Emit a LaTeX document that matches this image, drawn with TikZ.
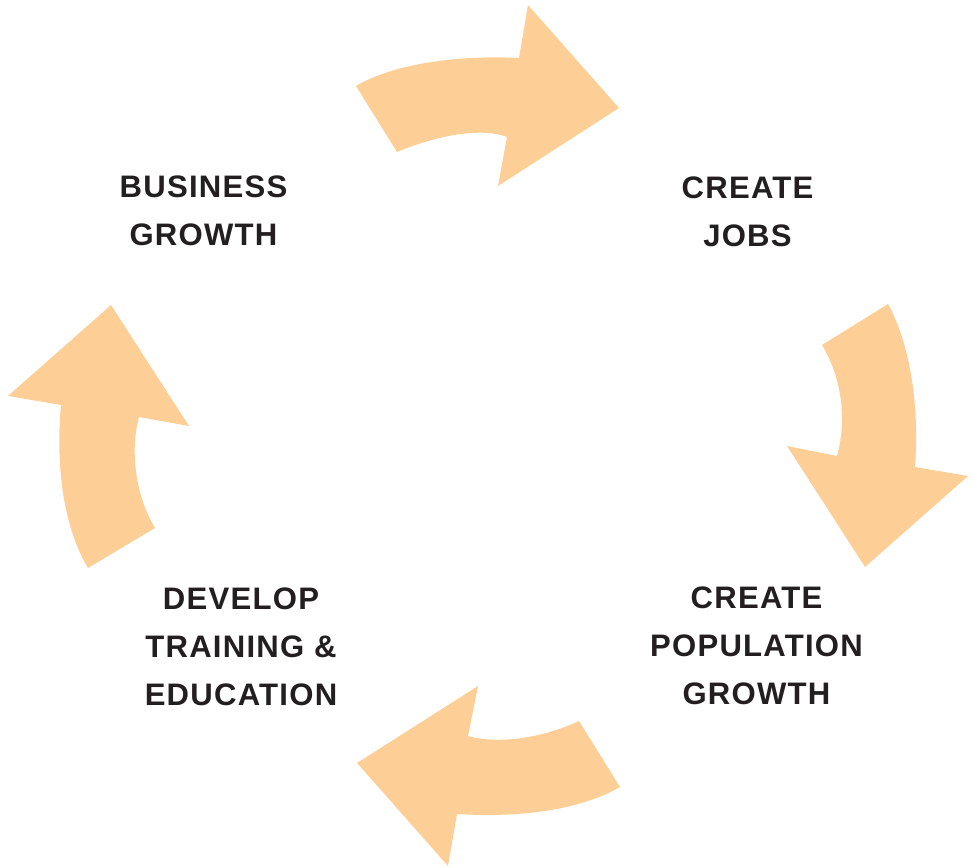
\documentclass[tikz,border=0pt]{standalone}
\usepackage{fontspec}
\usepackage{xcolor}
\usetikzlibrary{positioning}
\newfontfamily\cyclefont[LetterSpace=4]{Liberation Sans}
\definecolor{arrowfill}{RGB}{253,207,150}
\definecolor{labeltext}{RGB}{35,31,32}
\tikzset{
	cyclearrow/.style={fill=arrowfill, draw=none},
	steplabel/.style={align=center, inner sep=0pt, text=labeltext, font=\cyclefont\bfseries\fontsize{17.7}{27.3}\selectfont}
}
\begin{document}
\begin{tikzpicture}[x=0.02cm, y=-0.02cm]
		\useasboundingbox (0,0) rectangle (977,868);
		
		% arrows of the cycle
		\fill[cyclearrow] (356,86) .. controls (395,63) and (460,55) .. (519,58) -- (528,5) -- (619,108) -- (498,186) -- (507,137) .. controls (478,126) and (430,138) .. (397,152) -- cycle;
		\fill[cyclearrow] (888,304) .. controls (908,340) and (920,400) .. (915,467) -- (968,476) -- (865,567) -- (787,446) -- (837,456) .. controls (847,420) and (842,378) .. (822,345) -- cycle;
		\fill[cyclearrow] (620,787) .. controls (580,810) and (520,818) .. (457,814) -- (448,866) -- (357,763) -- (478,686) -- (468,736) .. controls (500,745) and (545,737) .. (579,721) -- cycle;
		\fill[cyclearrow] (88,568) .. controls (65,530) and (55,470) .. (61,405) -- (8,396) -- (111,305) -- (189,426) -- (139,417) .. controls (130,450) and (135,495) .. (155,528) -- cycle;
		
		% labels
		\node[steplabel] (business) at (203.5,211) {BUSINESS\\GROWTH};
		\node[steplabel] (jobs) at (747.5,212) {CREATE\\JOBS};
		\node[steplabel] (population) at (756.5,646) {CREATE\\POPULATION\\GROWTH};
		\node[steplabel] (training) at (241,647) {DEVELOP\\TRAINING \&\\EDUCATION};
	\end{tikzpicture}
\end{document}
